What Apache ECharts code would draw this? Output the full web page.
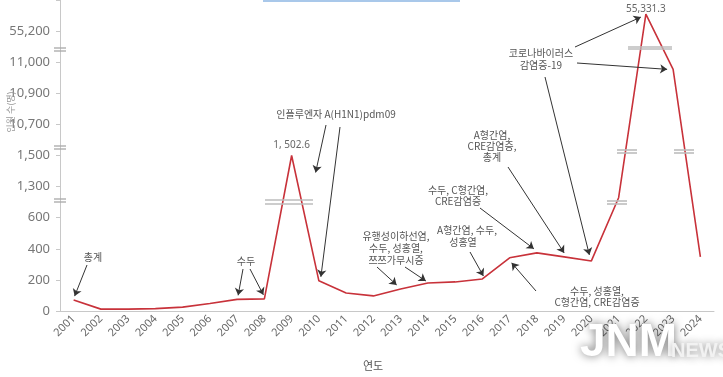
<!DOCTYPE html>
<html>
<head>
<meta charset="utf-8">
<script src="https://cdn.jsdelivr.net/npm/echarts@6/dist/echarts.min.js"></script>
<style>
html,body{margin:0;padding:0;background:#fff;}
#c{width:723px;height:377px;}
</style>
</head>
<body>
<div id="c"></div>
<script>
const years = ['2001','2002','2003','2004','2005','2006','2007','2008','2009','2010','2011','2012','2013','2014','2015','2016','2017','2018','2019','2020','2021','2022','2023','2024'];
const cases = [70, 12, 12, 15, 25, 48, 75, 78, 1502.6, 194, 116, 97, 142, 180, 187, 206, 342, 374, 348, 322, 1050, 55331.3, 10977, 348];
const tickValues = [0, 200, 400, 600, 1300, 1500, 10700, 10900, 11000, 55200];
const tickLabels = ['0', '200', '400', '600', '1,300', '1,500', '10,700', '10,900', '11,000', '55,200'];
const labelYears = ['2009', '2022'];
const labelTexts = ['1, 502.6', '55,331.3'];

// broken axis: each tick value sits on one evenly spaced step
const knots = tickValues.concat([55440]);
function toAxis(v) {
  for (let i = 0; i < knots.length - 1; i++) {
    if (v <= knots[i + 1]) return i + (v - knots[i]) / (knots[i + 1] - knots[i]);
  }
  return knots.length - 1;
}

const KR = '"Noto Sans CJK KR", "Noto Sans", sans-serif';
const chart = echarts.init(document.getElementById('c'), null, {renderer: 'canvas'});

const data = cases.map(v => toAxis(v));
const peakPoints = labelYears.map((y, k) => {
  const i = years.indexOf(y);
  return {coord: [i, toAxis(cases[i])], value: labelTexts[k], label: {distance: k === 1 ? 0 : 5}};
});

const breakStyle = {stroke: '#a8a8a8', lineWidth: 1.3};
function dbl(x1, x2, y, gap, style) {
  return [
    {type: 'line', shape: {x1: x1, y1: y, x2: x2, y2: y}, style: style, z: 50},
    {type: 'line', shape: {x1: x1, y1: y + gap, x2: x2, y2: y + gap}, style: style, z: 50}
  ];
}
const lineBreakStyle = {stroke: '#bdbdbd', lineWidth: 1.6};

function txt(x, y, s) {
  return {
    type: 'text', x: x, y: y, z: 60,
    style: {text: s, fill: '#555', font: '10px ' + KR, textAlign: 'center', textVerticalAlign: 'middle'}
  };
}

const graphics = [].concat(
  [{type: 'line', shape: {x1: 263, y1: 1, x2: 460, y2: 1}, style: {stroke: '#a9c8ea', lineWidth: 2}}],
  dbl(54, 66, 48, 3, breakStyle),
  dbl(54, 66, 146, 3, breakStyle),
  dbl(54, 66, 199, 3, breakStyle),
  dbl(265, 313, 200, 4, lineBreakStyle),
  dbl(607, 627, 201, 3, lineBreakStyle),
  dbl(617, 637, 150, 3, lineBreakStyle),
  dbl(628, 672, 47, 2, lineBreakStyle),
  dbl(674, 694, 150, 3, lineBreakStyle),
  [
    txt(93, 257, '총계'),
    txt(246, 261, '수두'),
    txt(336, 114, '인플루엔자 A(H1N1)pdm09'),
    txt(396, 236, '유행성이하선염,'),
    txt(396, 248, '수두, 성홍열,'),
    txt(396, 260, '쯔쯔가무시증'),
    txt(467, 230, 'A형간염, 수두,'),
    txt(463, 242, '성홍열'),
    txt(458, 190, '수두, C형간염,'),
    txt(458, 201, 'CRE감염증'),
    txt(492, 135, 'A형간염,'),
    txt(492, 146, 'CRE감염증,'),
    txt(492, 157, '총계'),
    txt(541, 53, '코로나바이러스'),
    txt(541, 65, '감염증-19'),
    txt(597, 291, '수두, 성홍열,'),
    txt(597, 302, 'C형간염, CRE감염증'),
    {type: 'text', x: 373, y: 366, z: 60,
     style: {text: '연도', fill: '#555', font: '11px ' + KR, textAlign: 'center', textVerticalAlign: 'middle'}},
    {type: 'text', x: 11, y: 112, rotation: Math.PI / 2, z: 60,
     style: {text: '인원 수(명)', fill: '#999', font: '9px ' + KR, textAlign: 'center', textVerticalAlign: 'middle'}},
    {type: 'text', x: 580, y: 343, z: 70,
     style: {text: 'JNM', fill: '#ffffff', font: 'bold 46px "Liberation Sans Narrow", "Liberation Sans", sans-serif',
             textAlign: 'left', textVerticalAlign: 'middle', textShadowColor: 'rgba(0,0,0,0.55)', textShadowBlur: 10}},
    {type: 'text', x: 671, y: 351, z: 70,
     style: {text: 'NEWS', fill: '#f2f2f2', font: 'bold 20px "Liberation Sans Narrow", "Liberation Sans", sans-serif',
             textAlign: 'left', textVerticalAlign: 'middle', textShadowColor: 'rgba(0,0,0,0.45)', textShadowBlur: 8}}
  ]
);

chart.setOption({
  animation: false,
  grid: {left: 60, right: 9, top: 0, bottom: 66, containLabel: false},
  xAxis: {
    type: 'category', data: years, boundaryGap: true,
    axisLine: {lineStyle: {color: '#c8c8c8', width: 1}},
    axisTick: {inside: true, length: 3, lineStyle: {color: '#c8c8c8'}},
    axisLabel: {rotate: 45, fontSize: 11, color: '#666', margin: 6, fontFamily: 'Noto Sans'}
  },
  yAxis: {
    type: 'value', min: 0, max: 10, interval: 1,
    axisLine: {show: true, lineStyle: {color: '#c8c8c8', width: 1}},
    axisTick: {show: true, length: 4, lineStyle: {color: '#c8c8c8'}},
    splitLine: {show: false},
    axisLabel: {
      fontSize: 13, color: '#777', margin: 10, fontFamily: 'Noto Sans',
      formatter: function (v) { return tickLabels[v] !== undefined ? tickLabels[v] : ''; }
    }
  },
  graphic: graphics,
  series: [{
    id: 's', type: 'line', data: data, symbol: 'none',
    lineStyle: {color: '#c8323a', width: 1.6},
    markPoint: {
      silent: true, animation: false,
      symbol: 'circle', symbolSize: 0,
      itemStyle: {color: 'rgba(0,0,0,0)'},
      label: {show: true, position: 'top', fontSize: 10, color: '#666', fontFamily: 'Noto Sans',
              formatter: function (p) { return p.value; }},
      data: peakPoints
    }
  }]
});

// annotation arrows: start near the text, tip next to the data point
const arrows = [
  {from: [87, 265], year: '2001', off: [1, -4]},
  {from: [243, 269], year: '2007', off: [1, -4]},
  {from: [250, 269], year: '2008', off: [-1, -4]},
  {from: [326, 125], year: '2009', off: [24, 17]},
  {from: [340, 127], year: '2010', off: [2, -4]},
  {from: [377, 267], year: '2013', off: [-4, -4]},
  {from: [405, 267], year: '2014', off: [-2, -2]},
  {from: [470, 252], year: '2016', off: [1, -3]},
  {from: [480, 208], year: '2018', off: [-3, -4]},
  {from: [508, 167], year: '2019', off: [0, -4]},
  {from: [575, 47], year: '2022', off: [-5, 3]},
  {from: [577, 63], year: '2023', off: [-6, 0]},
  {from: [545, 77], year: '2020', off: [-2, -6]},
  {from: [536, 291], year: '2017', off: [2, 5]}
];
const mlData = arrows.map(a => {
  const i = years.indexOf(a.year);
  const p = chart.convertToPixel({seriesIndex: 0}, [i, toAxis(cases[i])]);
  return [{x: a.from[0], y: a.from[1]}, {x: p[0] + a.off[0], y: p[1] + a.off[1]}];
});
chart.setOption({
  series: [{
    id: 's',
    markLine: {
      silent: true, animation: false,
      symbol: ['none', 'arrow'], symbolSize: 7,
      label: {show: false},
      lineStyle: {color: '#333', width: 1, type: 'solid'},
      emphasis: {disabled: true},
      data: mlData
    }
  }]
});
</script>
</body>
</html>
